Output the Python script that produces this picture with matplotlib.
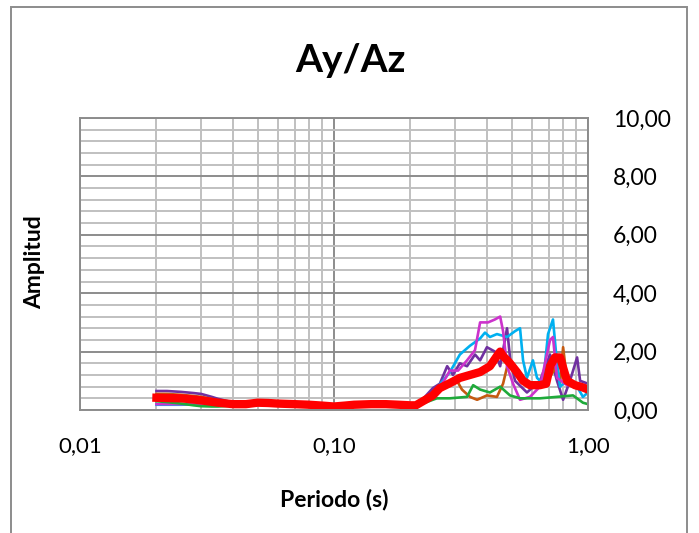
import matplotlib.pyplot as plt
from matplotlib.patches import Rectangle
from matplotlib.ticker import FixedLocator, NullFormatter

plt.rcParams['font.family'] = ['Lato', 'DejaVu Sans']

# periods (s) and amplitudes
t_low = [0.02, 0.022, 0.025, 0.028, 0.03, 0.033, 0.035, 0.04, 0.045, 0.05, 0.055,
         0.06, 0.07, 0.08, 0.09, 0.1, 0.11, 0.12, 0.14, 0.16, 0.18, 0.2, 0.21]

purple_y = [0.65, 0.65, 0.62, 0.58, 0.55, 0.45, 0.38, 0.26, 0.22, 0.27, 0.25, 0.23,
            0.21, 0.19, 0.16, 0.13, 0.16, 0.19, 0.21, 0.21, 0.19, 0.17, 0.2,
            0.45, 0.75, 0.9, 1.5, 1.2, 1.6, 1.5, 1.9, 1.7, 2.15, 2.0, 1.5, 2.8, 1.8,
            1.0, 0.6, 1.0, 1.9, 1.0, 0.35, 1.0, 1.8, 1.0, 0.9]
purple_t = t_low + [0.228, 0.245, 0.261, 0.279, 0.294, 0.313, 0.334, 0.359, 0.376,
                    0.40, 0.43, 0.451, 0.48, 0.493, 0.516, 0.575, 0.647, 0.709,
                    0.755, 0.798, 0.849, 0.906, 0.931, 1.0]

orange_y = [0.55, 0.55, 0.52, 0.48, 0.45, 0.38, 0.32, 0.24, 0.21, 0.26, 0.24, 0.22,
            0.2, 0.18, 0.15, 0.12, 0.15, 0.18, 0.2, 0.2, 0.18, 0.16, 0.18,
            0.35, 0.55, 0.8, 0.95, 1.0, 0.7, 0.45, 0.35, 0.5, 0.45, 0.9, 1.6, 1.5,
            1.0, 0.9, 0.95, 1.5, 0.9, 2.15, 1.0, 0.9, 0.8]
orange_t = t_low + [0.228, 0.245, 0.261, 0.286, 0.305, 0.319, 0.343, 0.366, 0.40,
                    0.438, 0.463, 0.484, 0.507, 0.54, 0.607, 0.684, 0.755, 0.776,
                    0.798, 0.827, 0.889, 1.0]

cyan_y = [0.18, 0.18, 0.18, 0.19, 0.19, 0.19, 0.19, 0.19, 0.2, 0.24, 0.23, 0.21,
          0.19, 0.17, 0.14, 0.12, 0.15, 0.18, 0.19, 0.19, 0.17, 0.16, 0.2,
          0.4, 0.6, 0.75, 1.3, 1.9, 2.2, 2.45, 2.65, 2.5, 2.6, 2.5, 2.7, 2.8, 1.7,
          1.1, 1.7, 1.1, 0.9, 2.6, 3.1, 1.6, 0.8, 1.0, 0.8, 0.45, 0.6]
cyan_t = t_low + [0.228, 0.245, 0.254, 0.286, 0.313, 0.343, 0.376, 0.393, 0.411,
                  0.438, 0.48, 0.516, 0.54, 0.555, 0.575, 0.607, 0.63, 0.665,
                  0.696, 0.728, 0.755, 0.776, 0.827, 0.906, 0.955, 1.0]

magenta_y = [0.2, 0.2, 0.2, 0.2, 0.2, 0.2, 0.2, 0.2, 0.21, 0.25, 0.24, 0.22, 0.2,
             0.18, 0.15, 0.12, 0.15, 0.18, 0.2, 0.2, 0.18, 0.16, 0.2,
             0.35, 0.55, 0.95, 1.35, 1.35, 1.7, 2.05, 3.0, 3.0, 3.1, 3.2, 2.7, 1.5,
             0.9, 0.35, 0.45, 0.8, 2.4, 2.5, 1.1, 0.85, 0.9, 0.6]
magenta_t = t_low + [0.228, 0.245, 0.269, 0.286, 0.308, 0.334, 0.359, 0.376, 0.404,
                     0.43, 0.451, 0.463, 0.48, 0.507, 0.54, 0.591, 0.647, 0.709,
                     0.728, 0.755, 0.827, 0.931, 1.0]

green_y = [0.3, 0.27, 0.22, 0.16, 0.13, 0.12, 0.12, 0.15, 0.17, 0.2, 0.19, 0.18,
           0.16, 0.15, 0.13, 0.11, 0.13, 0.15, 0.16, 0.16, 0.15, 0.14, 0.15,
           0.25, 0.4, 0.4, 0.45, 0.85, 0.7, 0.6, 0.8, 0.5, 0.4, 0.4, 0.45, 0.5,
           0.25, 0.2]
green_t = t_low + [0.228, 0.254, 0.286, 0.334, 0.353, 0.376, 0.411, 0.451, 0.493,
                   0.54, 0.647, 0.755, 0.873, 0.955, 1.0]

mean_y = [0.42, 0.41, 0.4, 0.36, 0.33, 0.28, 0.25, 0.2, 0.2, 0.25, 0.24, 0.22, 0.2,
          0.18, 0.15, 0.12, 0.15, 0.18, 0.2, 0.2, 0.18, 0.16, 0.16,
          0.34, 0.5, 0.75, 0.92, 1.1, 1.2, 1.3, 1.5, 1.85, 2.0, 1.85, 1.6, 1.3,
          1.0, 0.85, 0.85, 0.9, 1.5, 1.8, 1.8, 1.45, 1.0, 0.85, 0.78, 0.7]
mean_t = t_low + [0.228, 0.245, 0.261, 0.286, 0.313, 0.343, 0.376, 0.411, 0.438,
                  0.451, 0.463, 0.493, 0.525, 0.555, 0.591, 0.647, 0.684, 0.709,
                  0.741, 0.776, 0.798, 0.827, 0.889, 0.95, 1.0]

x_ticks = [0.01, 0.1, 1.0]
x_tick_labels = ['0,01', '0,10', '1,00']
y_ticks = [0, 2, 4, 6, 8, 10]
y_tick_labels = ['0,00', '2,00', '4,00', '6,00', '8,00', '10,00']

fig = plt.figure(figsize=(6.99, 5.33), dpi=100)
ax = fig.add_axes([80 / 699, 1 - 410 / 533, 508 / 699, 292 / 533])

ax.plot(purple_t, purple_y, color='#7030A0', lw=1.9)
ax.plot(orange_t, orange_y, color='#C55A11', lw=1.9)
ax.plot(cyan_t, cyan_y, color='#00B0F0', lw=1.9)
ax.plot(magenta_t, magenta_y, color='#CC33CC', lw=1.9)
ax.plot(green_t, green_y, color='#1FAA3A', lw=1.9)
ax.plot(mean_t, mean_y, color='#FF0000', lw=6, solid_joinstyle='round')

ax.set_xscale('log')
ax.set_xlim(0.01, 1.0)
ax.set_ylim(0, 10)

ax.xaxis.set_major_locator(FixedLocator(x_ticks))
ax.set_xticklabels(x_tick_labels)
minor_x = [m * d for d in (0.01, 0.1) for m in range(2, 10)]
ax.xaxis.set_minor_locator(FixedLocator(minor_x))
ax.xaxis.set_minor_formatter(NullFormatter())

ax.yaxis.tick_right()
ax.set_yticks(y_ticks)
ax.set_yticklabels(y_tick_labels)
ax.yaxis.set_minor_locator(FixedLocator([v * 0.4 for v in range(26)]))

ax.grid(which='major', color='#8C8C8C', lw=1.4)
ax.grid(which='minor', color='#C0C0C0', lw=1.4)
ax.set_axisbelow(True)
ax.tick_params(which='both', length=0)
ax.tick_params(axis='x', labelsize=16, pad=19)
ax.tick_params(axis='y', labelsize=16.5, pad=18)
for s in ax.spines.values():
    s.set_color('#8C8C8C')
    s.set_linewidth(1.4)

fig.text(350 / 699, 1 - 60 / 533, 'Ay/Az', fontsize=28, fontweight='bold',
         ha='center', va='center')
fig.text(334 / 699, 1 - 500 / 533, 'Periodo (s)', fontsize=16.5, fontweight='bold',
         ha='center', va='center')
fig.text(35 / 699, 1 - 262 / 533, 'Amplitud', fontsize=16.5, fontweight='bold',
         ha='center', va='center', rotation=90)

# outer chart frame
fig.patches.append(Rectangle((11 / 699, -0.02), 676 / 699, 1.02 - 7 / 533,
                             transform=fig.transFigure, fill=False,
                             edgecolor='#8C8C8C', lw=1.4))

fig.savefig('out.png', dpi=100)
